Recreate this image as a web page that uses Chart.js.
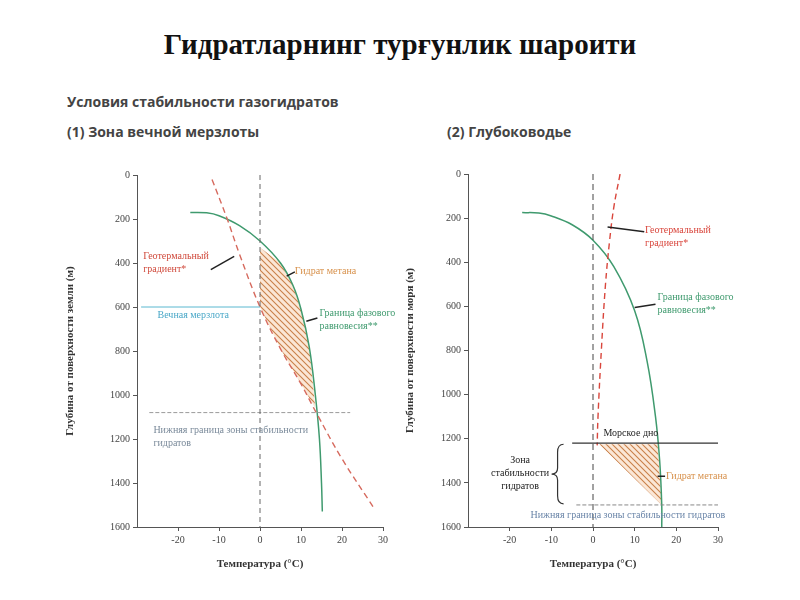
<!DOCTYPE html>
<html><head><meta charset="utf-8">
<script src="https://cdn.jsdelivr.net/npm/chart.js@4/dist/chart.umd.min.js"></script>
<style>
body{margin:0;background:#fff;width:800px;height:600px;position:relative;overflow:hidden;font-family:"Open Sans",sans-serif}
#t{position:absolute;top:28px;left:0;width:800px;text-align:center;font:bold 29px "Liberation Serif",serif;color:#111}
.h{position:absolute;font-weight:bold;color:#444;font-size:14px}
canvas{position:absolute}
</style></head><body>
<div id="t">Гидратларнинг турғунлик шароити</div>
<div class="h" style="left:67px;top:92px">Условия стабильности газогидратов</div>
<div class="h" style="left:67px;top:122px">(1) Зона вечной мерзлоты</div>
<div class="h" style="left:447px;top:122px">(2) Глубоководье</div>
<div style="position:absolute;left:60px;top:160px;width:340px;height:420px"><canvas id="c1"></canvas></div>
<div style="position:absolute;left:400px;top:160px;width:360px;height:420px"><canvas id="c2"></canvas></div>
<script>
// Data (temperature °C, depth m)
const xTicks = [-20,-10,0,10,20,30];
const yTicks = [0,200,400,600,800,1000,1200,1400,1600];
// Chart 1: permafrost
const phase1T = [-17,-13,-10,-5,0,5,8,10,12,13.5,14.5,15,15.2];
const phase1D = [170,172,185,230,300,400,500,610,780,1000,1200,1400,1530];
const geo1T = [-11.7,-8,-5,0,5,10,14,20,28];
const geo1D = [20,200,360,600,790,950,1090,1290,1520];
const hatch1T = [0,0,5,10,13.5,12,10,8,5,0];
const hatch1D = [330,600,790,950,1060,780,610,500,400,330];
const permafrostDepth = 600, lower1Depth = 1080;
// Chart 2: deep water
const phase2T = [-17,-13,-10,-5,0,5,10,13,15,16,16.5,16.5];
const phase2D = [175,177,190,230,300,420,620,850,1100,1300,1500,1600];
const geo2T = [6.5,5,4,3,2,1.2,1];
const geo2D = [0,150,300,500,800,1100,1230];
const hatch2T = [1.5,15.5,16.5,1.5];
const hatch2D = [1225,1225,1500,1225];
const seafloorDepth = 1220, lower2Depth = 1500;

const pts=(T,D)=>T.map((t,i)=>({x:t,y:D[i]}));
function hatchPattern(){
  const c=document.createElement('canvas');c.width=6;c.height=6;const g=c.getContext('2d');
  g.fillStyle='#fbe7d6';g.fillRect(0,0,6,6);
  g.strokeStyle='#c9814a';g.lineWidth=1.1;
  g.beginPath();g.moveTo(0,0);g.lineTo(6,6);g.moveTo(-3,3);g.lineTo(3,9);g.moveTo(3,-3);g.lineTo(9,3);g.stroke();
  return g.createPattern(c,'repeat');
}
const tickFont={family:'Liberation Serif',size:10};
function scales(ytitle){
  return {
    x:{type:'linear',min:-30,max:30,afterBuildTicks:a=>{a.ticks=xTicks.map(v=>({value:v}))},
       ticks:{color:'#444',font:tickFont,padding:3,callback:v=>String(v)},grid:{drawOnChartArea:false,tickLength:4,color:'#555'},border:{color:'#555'},
       title:{display:true,text:'Температура (°C)',font:{family:'Liberation Serif',size:11,weight:'bold'},color:'#333',padding:{top:1,bottom:9}},
       afterFit:s=>{s.height=53}},
    y:{type:'linear',reverse:true,min:0,max:1600,afterBuildTicks:a=>{a.ticks=yTicks.map(v=>({value:v}))},
       ticks:{color:'#444',font:tickFont,padding:3,callback:v=>String(v)},grid:{drawOnChartArea:false,tickLength:4,color:'#555'},border:{color:'#555'},
       title:{display:true,text:ytitle,font:{family:'Liberation Serif',size:11,weight:'bold'},color:'#333',padding:{bottom:10}},
       afterFit:s=>{s.width=s.chart.canvas.id==='c1'?77:68}}
  };
}
function line(T,D,color,dash,w){return {type:'line',data:pts(T,D),borderColor:color,borderWidth:w||1.4,borderDash:dash||[],pointRadius:0,tension:0.4,fill:false};}
function seg(t1,t2,d,color,dash,w){return {type:'line',data:[{x:t1,y:d},{x:t2,y:d}],borderColor:color,borderWidth:w||1,borderDash:dash||[],pointRadius:0,fill:false};}
function vseg(t,d1,d2,color,dash){return {type:'line',data:[{x:t,y:d1},{x:t,y:d2}],borderColor:color,borderWidth:1,borderDash:dash||[],pointRadius:0,fill:false};}

function annot(items,hatch){
  return {id:'annot',
    beforeDatasetsDraw(ch){
      const g=ch.ctx,X=ch.scales.x,Y=ch.scales.y;
      g.save();g.beginPath();
      hatch[0].forEach((t,i)=>{const px=X.getPixelForValue(t),py=Y.getPixelForValue(hatch[1][i]);i?g.lineTo(px,py):g.moveTo(px,py);});
      g.closePath();g.fillStyle=hatchPattern();g.fill();g.restore();
    },
    afterDraw(ch){
      const g=ch.ctx,X=ch.scales.x,Y=ch.scales.y;
      g.save();
      items.forEach(it=>{
        if(it.arrow){g.strokeStyle='#222';g.lineWidth=1.5;g.beginPath();
          g.moveTo(X.getPixelForValue(it.arrow[0]),Y.getPixelForValue(it.arrow[1]));
          g.lineTo(X.getPixelForValue(it.arrow[2]),Y.getPixelForValue(it.arrow[3]));g.stroke();}
        if(it.text){g.font=(it.bold?'bold ':'')+(it.size||10)+'px "Liberation Serif"';g.fillStyle=it.color;g.textAlign=it.align||'left';g.textBaseline='middle';
          it.text.forEach((s,i)=>g.fillText(s,X.getPixelForValue(it.t),Y.getPixelForValue(it.d)+i*13));}
        if(it.brace){const x=X.getPixelForValue(it.brace[0]),y1=Y.getPixelForValue(it.brace[1]),y2=Y.getPixelForValue(it.brace[2]),m=(y1+y2)/2;
          g.strokeStyle='#333';g.lineWidth=1.2;g.beginPath();g.moveTo(x+6,y1);g.quadraticCurveTo(x,y1,x,y1+8);g.lineTo(x,m-6);g.quadraticCurveTo(x,m,x-6,m);
          g.quadraticCurveTo(x,m,x,m+6);g.lineTo(x,y2-8);g.quadraticCurveTo(x,y2,x+6,y2);g.stroke();}
      });
      g.restore();
    }};
}
const common={responsive:true,maintainAspectRatio:false,animation:false,plugins:{legend:{display:false},tooltip:{enabled:false}}};

new Chart(document.getElementById('c1'),{
  data:{datasets:[
    vseg(0,0,1600,'#666',[5,4]),
    seg(-29,0,permafrostDepth,'#5bb8d0'),
    seg(-27,22,lower1Depth,'#9a9a9a',[4,2]),
    line(geo1T,geo1D,'#d66a5e',[6,4],1.4),
    line(phase1T,phase1D,'#3f9a6e',null,1.5)
  ]},
  options:{...common,layout:{padding:{top:15,right:17}},scales:scales('Глубина от поверхности земли (м)')},
  plugins:[annot([
    {text:['Геотермальный','градиент*'],t:-28.5,d:370,color:'#d04a3c'},
    {arrow:[-12,430,-6.3,370]},
    {text:['Гидрат метана'],t:8.5,d:440,color:'#d7904a'},
    {arrow:[6.5,460,8.5,440]},
    {text:['Граница фазового','равновесия**'],t:14.5,d:630,color:'#3f9a6e'},
    {arrow:[11.3,665,14,650]},
    {text:['Вечная мерзлота'],t:-25,d:640,color:'#4aa8c8'},
    {text:['Нижняя граница зоны стабильности','гидратов'],t:-26,d:1160,color:'#7a8a9a'}
  ],[hatch1T,hatch1D])]
});

new Chart(document.getElementById('c2'),{
  data:{datasets:[
    vseg(0,0,1600,'#444',[6,4]),
    seg(-5,31,seafloorDepth,'#333',null,1.2),
    seg(-4,30,lower2Depth,'#888',[4,2]),
    line(geo2T,geo2D,'#d9463c',[6,4],1.4),
    line(phase2T,phase2D,'#3f9a6e',null,1.5)
  ]},
  options:{...common,layout:{padding:{top:14,right:42}},scales:scales('Глубина от поверхности моря (м)')},
  plugins:[annot([
    {text:['Геотермальный','градиент*'],t:12.5,d:255,color:'#d9463c'},
    {arrow:[3.5,240,12.3,262]},
    {text:['Граница фазового','равновесия**'],t:15.5,d:560,color:'#3f9a6e'},
    {arrow:[10,605,15,590]},
    {text:['Морское дно'],t:2.5,d:1175,color:'#222'},
    {text:['Гидрат метана'],t:17.5,d:1370,color:'#d7904a'},
    {arrow:[15.5,1370,17.3,1370]},
    {text:['Зона','стабильности','гидратов'],t:-17.5,d:1300,color:'#222',align:'center'},
    {brace:[-8.5,1225,1495]},
    {text:['Нижняя граница зоны стабильности гидратов'],t:-15,d:1548,color:'#6a85a8'}
  ],[hatch2T,hatch2D])]
});
</script></body></html>
